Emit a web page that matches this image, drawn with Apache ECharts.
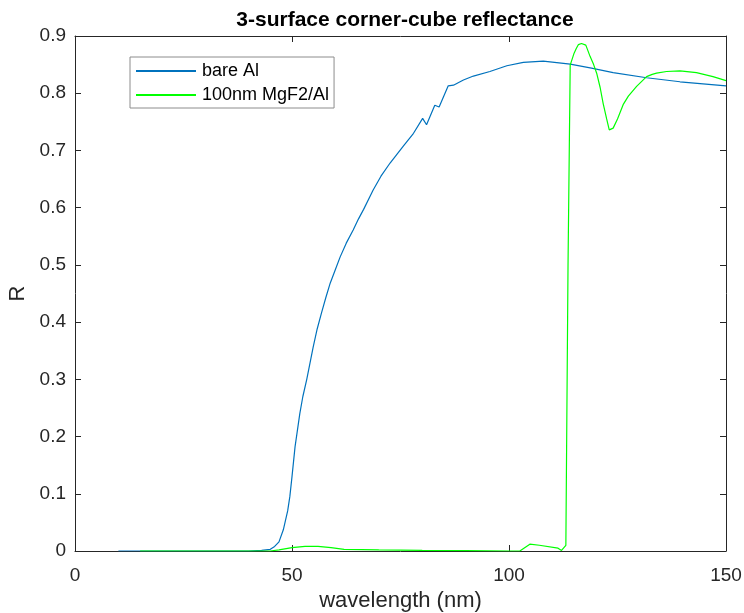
<!DOCTYPE html>
<html>
<head>
<meta charset="utf-8">
<script src="https://cdn.jsdelivr.net/npm/echarts@6/dist/echarts.min.js"></script>
<style>
  html, body { margin: 0; padding: 0; background: #fff; }
  #chart { width: 744px; height: 613px; }
</style>
</head>
<body>
<div id="chart"></div>
<script>
// bare Al
const bareX = [10, 20, 30, 40, 43, 45, 46, 47, 48, 49, 49.5, 50, 50.7, 51.8, 52.5, 53.4, 54.9, 55.8, 56.8, 57.8, 58.8, 60, 61.1, 62.5, 64.1, 65.3, 66.5, 68.7, 70.5, 72.6, 75.6, 78, 80.1, 81, 82.9, 83.9, 86, 87.2, 89.5, 91.8, 95.6, 99.5, 103.3, 107.9, 114.1, 119, 124, 131.7, 139.4, 150]
const bareR = [0, 0, 0, 0, 0.001, 0.003, 0.008, 0.016, 0.037, 0.07, 0.095, 0.13, 0.182, 0.24, 0.27, 0.30, 0.357, 0.388, 0.416, 0.443, 0.468, 0.492, 0.514, 0.538, 0.561, 0.58, 0.597, 0.631, 0.655, 0.678, 0.707, 0.730, 0.756, 0.745, 0.779, 0.776, 0.813, 0.814, 0.823, 0.830, 0.838, 0.848, 0.854, 0.856, 0.851, 0.844, 0.836, 0.827, 0.820, 0.813]

// 100nm MgF2/Al
const mgfX = [15, 30, 45, 47, 50, 53, 56, 59, 62, 70, 80, 90, 100, 102.5, 104.8, 107, 111.3, 112.1, 113.1, 113.6, 114.1, 115, 115.5, 116, 116.7, 117.7, 118.7, 119.5, 120.2, 121, 121.7, 122.5, 123.1, 123.5, 124, 125, 126.3, 127.5, 129.4, 131.7, 133, 134, 136.3, 139.4, 143.2, 147, 150]
const mgfR = [0, 0, 0, 0.002, 0.006, 0.008, 0.008, 0.006, 0.003, 0.002, 0.001, 0.0005, 0, 0, 0.012, 0.01, 0.005, 0.001, 0.01, 0.5, 0.849, 0.87, 0.878, 0.885, 0.887, 0.884, 0.864, 0.85, 0.835, 0.81, 0.782, 0.755, 0.736, 0.735, 0.739, 0.755, 0.780, 0.795, 0.812, 0.829, 0.833, 0.835, 0.838, 0.839, 0.836, 0.829, 0.822]

const seriesNames = ['bare Al', '100nm MgF2/Al']
const xTicks = [0, 50, 100, 150]
const yTicks = [0, 0.1, 0.2, 0.3, 0.4, 0.5, 0.6, 0.7, 0.8, 0.9]

const font = "'Liberation Sans', Arial, sans-serif"
const ink = '#262626'

const pairs = (xs, ys) => xs.map((x, i) => [x, ys[i]])

const chart = echarts.init(document.getElementById('chart'))

const xBase = {
  type: 'value', min: 0, max: 150, interval: 50,
  axisLine: { onZero: false, lineStyle: { color: ink, width: 1 } },
  axisTick: { inside: true, length: 6, lineStyle: { color: ink } },
  splitLine: { show: false }
}
const yBase = {
  type: 'value', min: 0, max: 0.9, interval: 0.1,
  axisLine: { show: true, onZero: false, lineStyle: { color: ink, width: 1 } },
  axisTick: { show: true, inside: true, length: 6, lineStyle: { color: ink } },
  splitLine: { show: false }
}

chart.setOption({
  animation: false,
  title: {
    text: '3-surface corner-cube reflectance',
    left: 400, top: 5, textAlign: 'center',
    textStyle: { fontFamily: font, fontSize: 21, fontWeight: 'bold', color: '#000' }
  },
  grid: { left: 75, right: 18, top: 36, bottom: 62, outerBoundsMode: 'none', containLabel: false },
  legend: {
    orient: 'vertical',
    left: 130, top: 57,
    padding: [5, 5, 4, 6],
    itemGap: 6,
    itemWidth: 60, itemHeight: 2,
    icon: 'rect',
    borderColor: '#8c8c8c', borderWidth: 1,
    backgroundColor: '#fff',
    textStyle: { fontFamily: font, fontSize: 18, color: '#000', padding: [0, 0, 0, 1] },
    data: seriesNames
  },
  xAxis: [
    Object.assign({}, xBase, {
      position: 'bottom',
      name: 'wavelength (nm)', nameLocation: 'middle', nameGap: 39,
      nameTextStyle: { fontFamily: font, fontSize: 22, color: ink },
      axisLabel: { fontFamily: font, fontSize: 19, color: ink, margin: 15,
        formatter: v => xTicks.includes(v) ? String(v) : '' }
    }),
    Object.assign({}, xBase, { position: 'top', axisLabel: { show: false } })
  ],
  yAxis: [
    Object.assign({}, yBase, {
      position: 'left',
      name: 'R', nameLocation: 'middle', nameGap: 44,
      nameTextStyle: { fontFamily: font, fontSize: 22, color: ink },
      axisLabel: { fontFamily: font, fontSize: 19, color: ink, margin: 9,
        formatter: v => {
          const t = yTicks.find(k => Math.abs(k - v) < 1e-9)
          return t === undefined ? '' : (t === 0 ? '0' : t.toFixed(1))
        } }
    }),
    Object.assign({}, yBase, { position: 'right', axisLabel: { show: false } })
  ],
  series: [
    {
      name: seriesNames[0], type: 'line', symbol: 'none',
      xAxisIndex: 0, yAxisIndex: 0,
      lineStyle: { color: '#0072BD', width: 1.2 },
      itemStyle: { color: '#0072BD' },
      data: pairs(bareX, bareR)
    },
    {
      name: seriesNames[1], type: 'line', symbol: 'none',
      xAxisIndex: 0, yAxisIndex: 0,
      lineStyle: { color: '#00FF00', width: 1.2 },
      itemStyle: { color: '#00FF00' },
      data: pairs(mgfX, mgfR)
    }
  ]
})
</script>
</body>
</html>
